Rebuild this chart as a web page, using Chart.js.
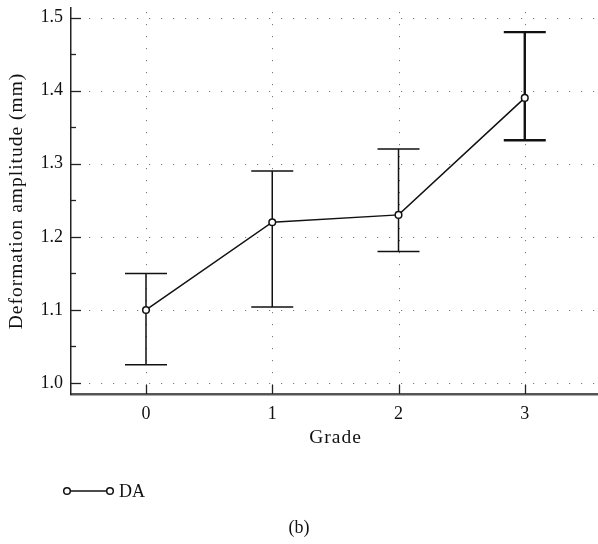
<!DOCTYPE html>
<html><head><meta charset="utf-8">
<script src="https://cdn.jsdelivr.net/npm/chart.js@4/dist/chart.umd.min.js"></script>
<style>html,body{margin:0;padding:0;background:#fff}#wrap{width:598px;height:544px}</style>
</head><body><div id="wrap"><canvas id="c" width="598" height="544"></canvas></div>
<script>
const categories = [0, 1, 2, 3];
const meanValues = [1.10, 1.22, 1.23, 1.39];
const upperValues = [1.15, 1.29, 1.32, 1.48];
const lowerValues = [1.025, 1.104, 1.18, 1.332];
const yTickValues = [1.0, 1.1, 1.2, 1.3, 1.4, 1.5];
const yMinorValues = [1.05, 1.15, 1.25, 1.35, 1.45];
const seriesName = 'DA';
const xTitle = 'Grade';
const yTitle = 'Deformation amplitude (mm)';
const caption = '(b)';

const FONT = '"Liberation Serif", "Times New Roman", serif';

const extras = {
  id: 'extras',
  beforeDatasetsDraw(chart) {
    const {ctx, chartArea: a, scales: {x, y}} = chart;
    ctx.save();
    ctx.strokeStyle = '#7a7a7a';
    ctx.lineWidth = 1;
    ctx.setLineDash([1.2, 10.8]);
    yTickValues.forEach(v => {
      const py = Math.round(y.getPixelForValue(v)) + 0.5;
      ctx.beginPath(); ctx.moveTo(a.left + 6, py); ctx.lineTo(a.right, py); ctx.stroke();
    });
    categories.forEach(v => {
      const px = Math.round(x.getPixelForValue(v)) + 0.5;
      ctx.beginPath(); ctx.moveTo(px, a.top + 4); ctx.lineTo(px, a.bottom); ctx.stroke();
    });
    ctx.setLineDash([]);
    ctx.strokeStyle = '#222';
    ctx.lineWidth = 1.3;
    yTickValues.forEach(v => {
      const py = Math.round(y.getPixelForValue(v)) + 0.5;
      ctx.beginPath(); ctx.moveTo(a.left, py); ctx.lineTo(a.left + 10, py); ctx.stroke();
    });
    yMinorValues.forEach(v => {
      const py = Math.round(y.getPixelForValue(v)) + 0.5;
      ctx.beginPath(); ctx.moveTo(a.left, py); ctx.lineTo(a.left + 5, py); ctx.stroke();
    });
    categories.forEach(v => {
      const px = Math.round(x.getPixelForValue(v)) + 0.5;
      ctx.beginPath(); ctx.moveTo(px, a.bottom); ctx.lineTo(px, a.bottom - 9); ctx.stroke();
    });
    ctx.strokeStyle = '#111';
    categories.forEach((c, i) => {
      const px = x.getPixelForValue(c);
      const pt = y.getPixelForValue(upperValues[i]);
      const pb = y.getPixelForValue(lowerValues[i]);
      ctx.lineWidth = i === 3 ? 2.4 : 1.5;
      ctx.beginPath();
      ctx.moveTo(px, pt); ctx.lineTo(px, pb);
      ctx.moveTo(px - 21, pt); ctx.lineTo(px + 21, pt);
      ctx.moveTo(px - 21, pb); ctx.lineTo(px + 21, pb);
      ctx.stroke();
    });
    ctx.restore();
  },
  afterDraw(chart) {
    const {ctx, chartArea: a} = chart;
    ctx.save();
    ctx.fillStyle = '#111';
    ctx.font = '19.5px ' + FONT;
    ctx.letterSpacing = '1px';
    ctx.textAlign = 'center';
    ctx.textBaseline = 'alphabetic';
    ctx.fillText(xTitle, (a.left + a.right) / 2 + 1, 443);
    ctx.save();
    ctx.translate(22, (a.top + a.bottom) / 2);
    ctx.rotate(-Math.PI / 2);
    ctx.fillText(yTitle, 0, 0);
    ctx.restore();
    ctx.letterSpacing = '0px';
    ctx.strokeStyle = '#111';
    ctx.lineWidth = 1.5;
    ctx.beginPath(); ctx.moveTo(67, 491); ctx.lineTo(110, 491); ctx.stroke();
    [67, 110].forEach(cx => {
      ctx.beginPath(); ctx.arc(cx, 491, 3.3, 0, Math.PI * 2);
      ctx.fillStyle = '#fff'; ctx.fill(); ctx.stroke();
    });
    ctx.fillStyle = '#111';
    ctx.textAlign = 'left';
    ctx.font = '18px ' + FONT;
    ctx.fillText(seriesName, 119, 497);
    ctx.textAlign = 'center';
    ctx.fillText(caption, 299, 533);
    ctx.restore();
  }
};

new Chart(document.getElementById('c'), {
  type: 'line',
  data: {
    datasets: [{
      label: seriesName,
      data: categories.map((c, i) => ({x: c, y: meanValues[i]})),
      borderColor: '#111',
      borderWidth: 1.5,
      pointRadius: 3.3,
      pointBorderWidth: 1.5,
      pointBackgroundColor: '#fff',
      pointBorderColor: '#111',
      tension: 0,
      fill: false
    }]
  },
  options: {
    responsive: false,
    animation: false,
    devicePixelRatio: 1,
    layout: {autoPadding: false, padding: {top: 8, right: 0, left: 0, bottom: 0}},
    plugins: {legend: {display: false}, tooltip: {enabled: false}, title: {display: false}},
    scales: {
      x: {
        type: 'linear',
        min: -0.594,
        max: 3.58,
        afterBuildTicks: s => { s.ticks = categories.map(v => ({value: v})); },
        afterFit: s => { s.height = 150; s.paddingRight = 0; s.paddingLeft = 0; },
        grid: {display: false, drawTicks: false},
        border: {display: true, color: '#555', width: 2.5},
        ticks: {
          color: '#111', padding: 9,
          font: {family: FONT, size: 18},
          callback: v => String(v)
        }
      },
      y: {
        type: 'linear',
        min: 0.985,
        max: 1.513,
        afterBuildTicks: s => { s.ticks = yTickValues.map(v => ({value: v})); },
        afterFit: s => { s.width = 71; s.paddingTop = 0; s.paddingBottom = 0; },
        grid: {display: false, drawTicks: false},
        border: {display: true, color: '#222', width: 1.5},
        ticks: {
          color: '#111', padding: 8,
          font: {family: FONT, size: 18},
          callback: v => Number(v).toFixed(1)
        }
      }
    }
  },
  plugins: [extras]
});
</script></body></html>
